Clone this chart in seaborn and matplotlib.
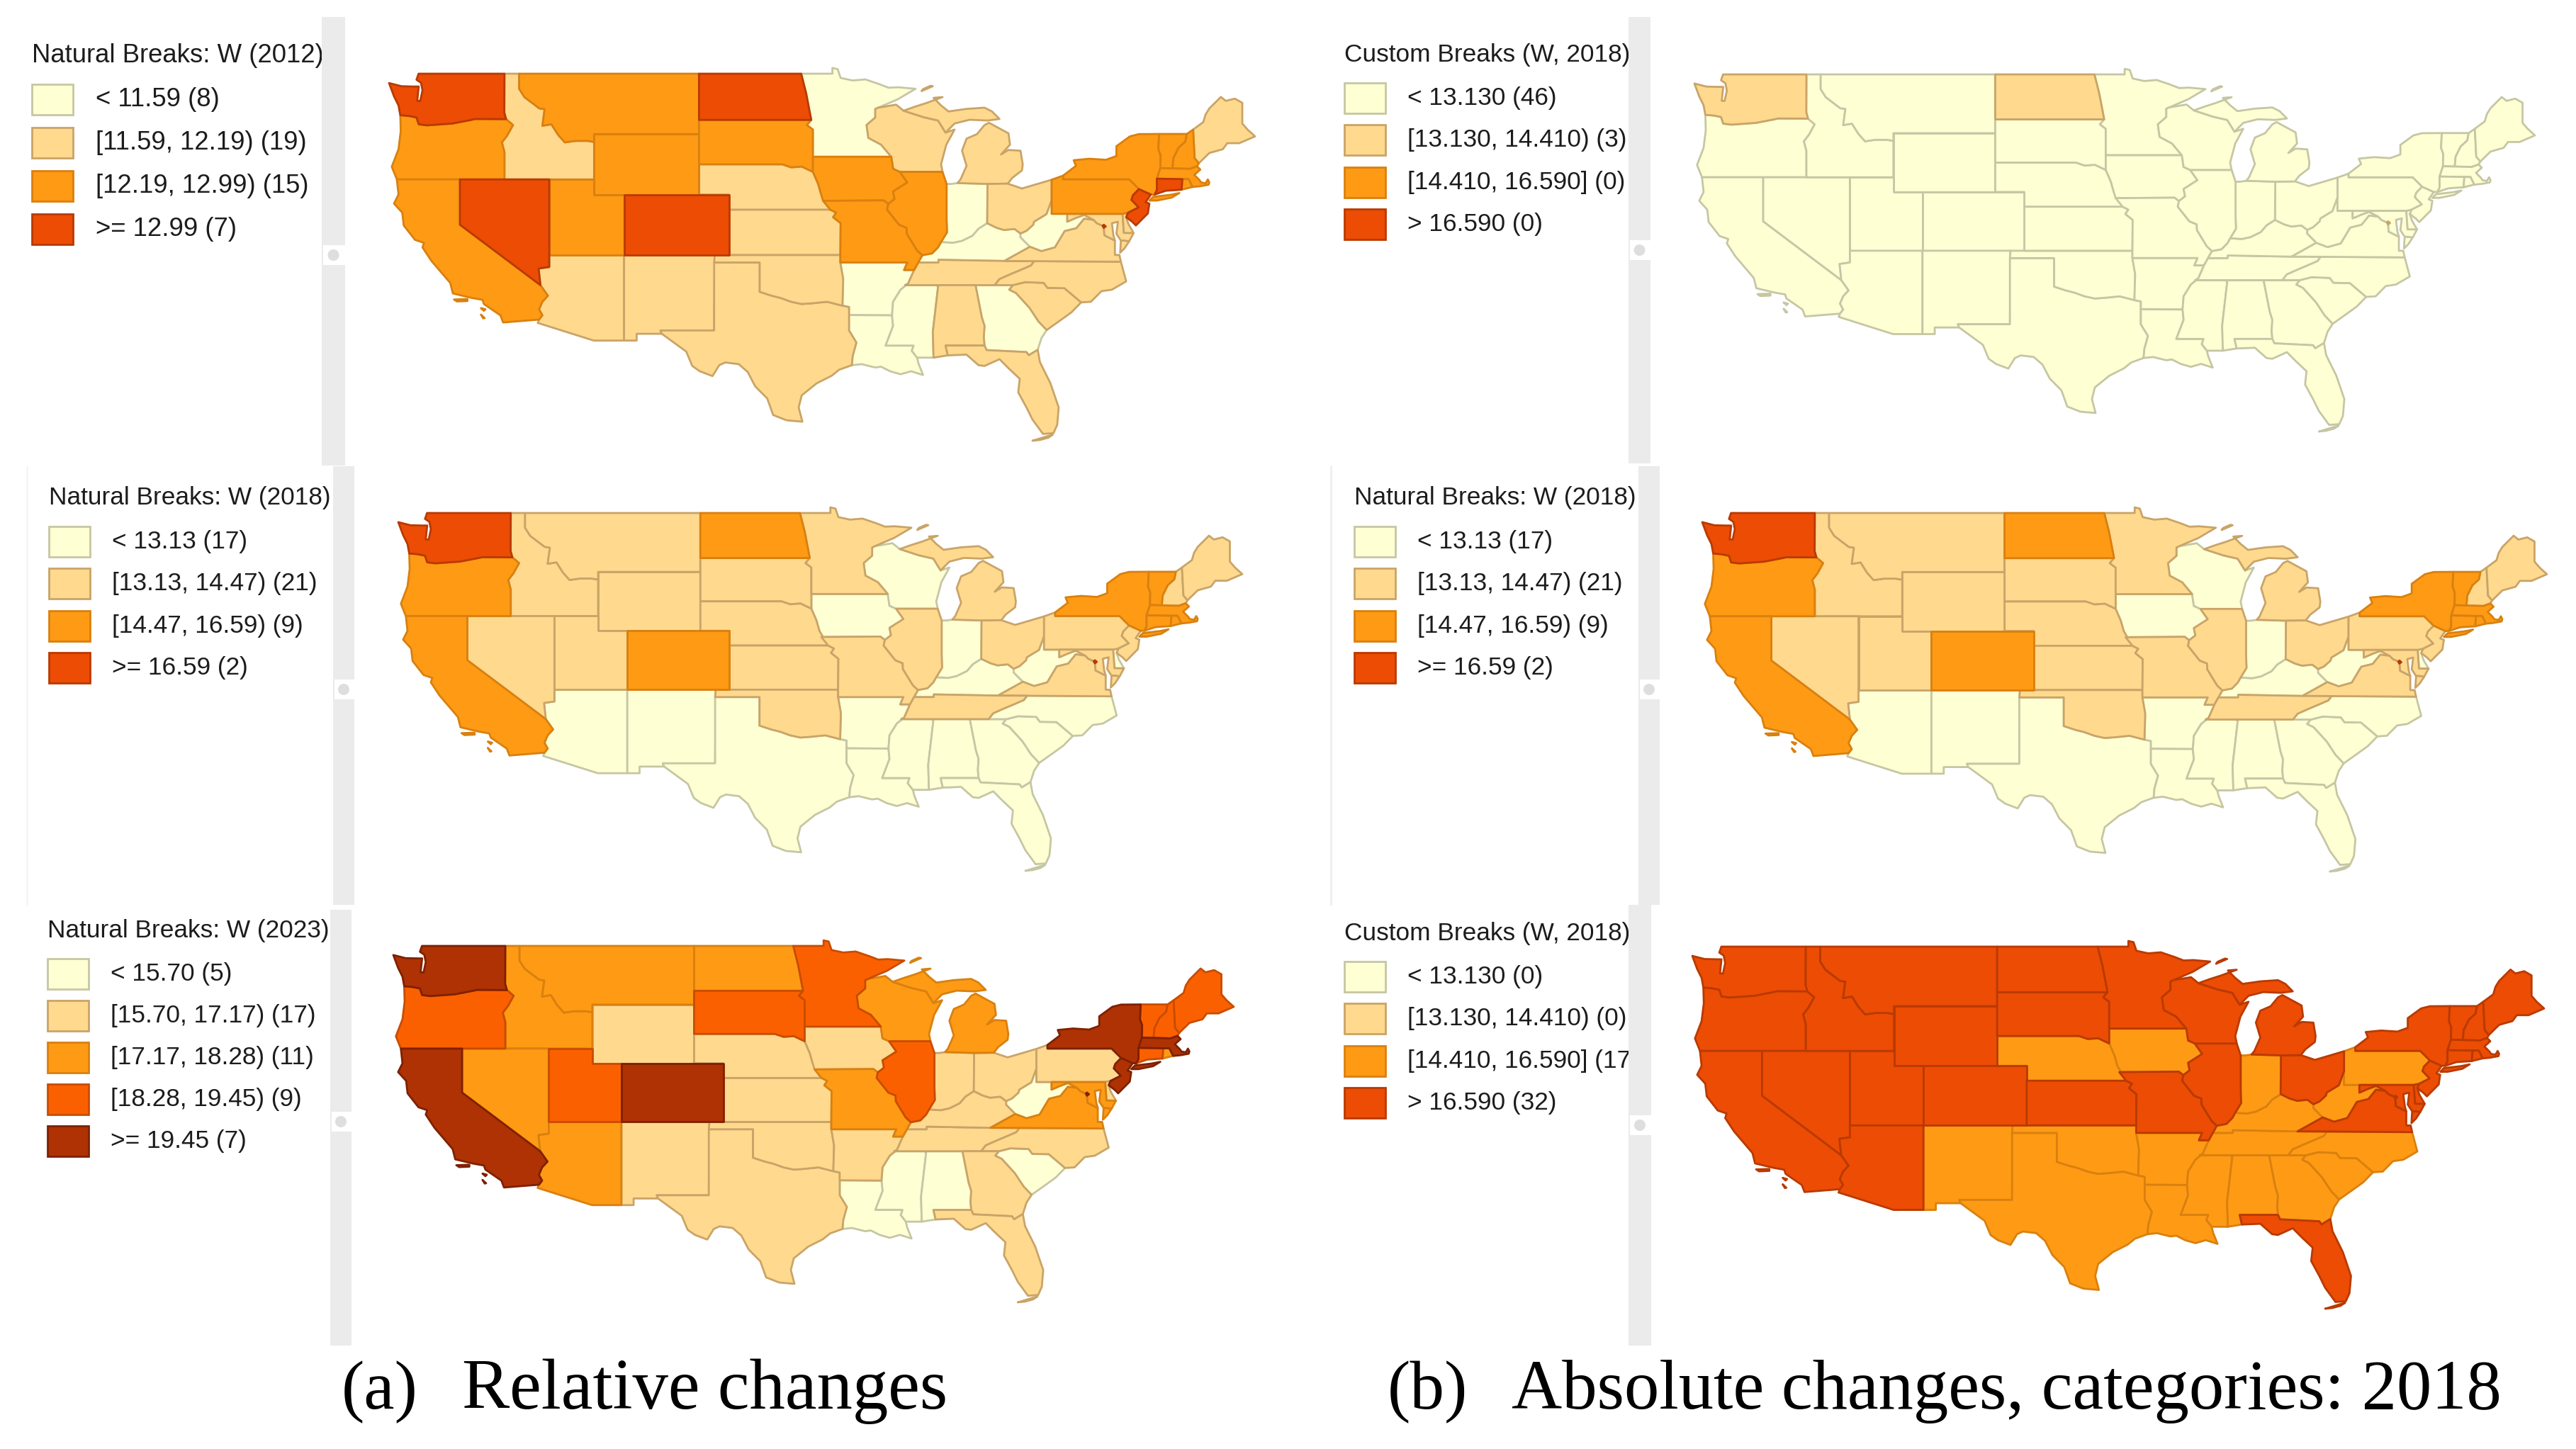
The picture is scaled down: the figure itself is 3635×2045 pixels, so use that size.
"""Six small US choropleth maps, wage classes by state, two columns"""
import matplotlib
matplotlib.use("Agg")
import matplotlib.pyplot as plt
from matplotlib.patches import Rectangle, Circle
import seaborn as sns

# state outlines, lon / lat
WA = [(-124.73,48.38),(-123.9,48.17),(-123.1,48.15),(-122.75,48.15),(-122.85,47.2),(-122.65,47.2),(-122.5,47.9),(-122.6,48.4),(-122.9,48.6),(-122.76,49.0),(-117.03,49.0),(-117.04,46.42),(-116.92,45.99),(-118.98,46.0),(-119.3,45.93),(-120.5,45.7),(-121.2,45.65),(-122.2,45.58),(-122.75,45.65),(-122.9,46.1),(-123.4,46.2),(-123.98,46.25),(-124.1,46.9),(-124.4,47.5)]
OR = [(-123.98,46.25),(-123.4,46.2),(-122.9,46.1),(-122.75,45.65),(-122.2,45.58),(-121.2,45.65),(-120.5,45.7),(-119.3,45.93),(-118.98,46.0),(-116.92,45.99),(-116.46,45.6),(-116.85,44.9),(-117.2,44.45),(-117.03,43.8),(-117.03,42.0),(-124.21,42.0),(-124.55,42.84),(-124.1,44.0),(-123.95,45.2)]
CA = [(-124.21,42.0),(-120.0,42.0),(-120.0,39.0),(-114.63,35.0),(-114.13,34.3),(-114.5,33.9),(-114.72,33.4),(-114.5,33.0),(-114.72,32.72),(-117.12,32.53),(-117.3,33.0),(-118.4,33.75),(-118.5,34.03),(-119.2,34.15),(-120.47,34.45),(-120.65,35.15),(-121.9,36.6),(-122.5,37.5),(-122.4,37.8),(-123.0,38.0),(-123.75,38.95),(-123.85,39.8),(-124.4,40.4),(-124.1,41.0)]
CA_ISLE1 = [(-120.4,34.05),(-119.5,34.08),(-119.5,33.95),(-120.2,33.92)]
CA_ISLE2 = [(-118.6,33.48),(-118.3,33.4),(-118.4,33.3)]
CA_ISLE3 = [(-118.6,33.05),(-118.35,32.82),(-118.45,32.8)]
NV = [(-120.0,42.0),(-114.04,42.0),(-114.04,36.2),(-114.75,36.1),(-114.63,35.0),(-120.0,39.0)]
ID = [(-117.03,49.0),(-116.05,49.0),(-116.05,48.0),(-115.7,47.45),(-114.7,46.7),(-114.35,46.65),(-114.5,45.55),(-113.9,45.65),(-113.45,44.95),(-113.0,44.45),(-112.3,44.55),(-111.5,44.55),(-111.05,44.48),(-111.05,42.0),(-117.03,42.0),(-117.03,43.8),(-117.2,44.45),(-116.85,44.9),(-116.46,45.6),(-116.92,45.99),(-117.04,46.42)]
MT = [(-116.05,49.0),(-104.05,49.0),(-104.05,45.0),(-111.05,45.0),(-111.05,44.48),(-111.5,44.55),(-112.3,44.55),(-113.0,44.45),(-113.45,44.95),(-113.9,45.65),(-114.5,45.55),(-114.35,46.65),(-114.7,46.7),(-115.7,47.45),(-116.05,48.0)]
WY = [(-111.05,45.0),(-104.05,45.0),(-104.05,41.0),(-111.05,41.0)]
UT = [(-114.04,42.0),(-111.05,42.0),(-111.05,41.0),(-109.05,41.0),(-109.05,37.0),(-114.04,37.0)]
CO = [(-109.05,41.0),(-102.05,41.0),(-102.05,37.0),(-109.05,37.0)]
AZ = [(-114.04,37.0),(-109.05,37.0),(-109.05,31.33),(-111.07,31.33),(-114.81,32.5),(-114.72,32.72),(-114.5,33.0),(-114.72,33.4),(-114.5,33.9),(-114.13,34.3),(-114.63,35.0),(-114.75,36.1),(-114.04,36.2)]
NM = [(-109.05,37.0),(-103.0,37.0),(-103.04,32.0),(-106.62,32.0),(-106.53,31.78),(-108.21,31.78),(-108.21,31.33),(-109.05,31.33)]
TX = [(-103.04,36.5),(-100.0,36.5),(-100.0,34.56),(-99.2,34.3),(-98.6,34.15),(-97.9,33.9),(-97.2,33.75),(-96.5,33.8),(-95.5,33.9),(-94.48,33.64),(-94.04,33.55),(-94.04,33.02),(-94.04,32.0),(-93.55,31.2),(-93.8,30.3),(-93.85,29.7),(-94.7,29.4),(-95.2,29.0),(-96.2,28.5),(-97.2,27.7),(-97.4,26.9),(-97.15,25.96),(-98.2,26.05),(-99.1,26.4),(-99.5,27.5),(-100.3,28.3),(-100.8,29.25),(-101.4,29.77),(-102.3,29.88),(-102.7,29.7),(-103.15,28.98),(-104.0,29.3),(-104.5,29.65),(-104.9,30.6),(-106.53,31.78),(-106.62,32.0),(-103.04,32.0)]
OK = [(-103.0,37.0),(-94.62,37.0),(-94.62,36.5),(-94.43,35.4),(-94.48,33.64),(-95.5,33.9),(-96.5,33.8),(-97.2,33.75),(-97.9,33.9),(-98.6,34.15),(-99.2,34.3),(-100.0,34.56),(-100.0,36.5),(-103.04,36.5)]
KS = [(-102.05,40.0),(-95.3,40.0),(-94.9,39.8),(-95.1,39.5),(-94.6,39.1),(-94.62,37.0),(-102.05,37.0)]
NE = [(-104.05,43.0),(-98.5,43.0),(-97.9,42.8),(-97.2,42.85),(-96.45,42.5),(-96.1,41.7),(-95.9,41.0),(-95.3,40.0),(-102.05,40.0),(-102.05,41.0),(-104.05,41.0)]
SD = [(-104.05,45.94),(-96.56,45.94),(-96.85,45.6),(-96.45,45.3),(-96.45,43.5),(-96.45,42.5),(-97.2,42.85),(-97.9,42.8),(-98.5,43.0),(-104.05,43.0)]
ND = [(-104.05,49.0),(-97.23,49.0),(-96.9,47.7),(-96.56,45.94),(-104.05,45.94)]
MN = [(-97.23,49.0),(-95.15,49.0),(-95.15,49.38),(-94.8,49.3),(-94.6,48.72),(-93.8,48.55),(-92.95,48.62),(-92.0,48.3),(-91.4,48.07),(-90.75,48.1),(-89.6,48.0),(-90.8,47.3),(-92.1,46.75),(-92.29,46.66),(-92.29,46.1),(-92.87,45.6),(-92.75,44.75),(-91.9,44.3),(-91.22,43.5),(-96.45,43.5),(-96.45,45.3),(-96.85,45.6),(-96.56,45.94),(-96.9,47.7)]
IA = [(-96.45,43.5),(-91.22,43.5),(-91.1,42.7),(-90.65,42.5),(-90.15,41.8),(-91.1,41.2),(-91.0,40.7),(-91.42,40.38),(-91.73,40.61),(-95.77,40.58),(-95.9,41.0),(-96.1,41.7),(-96.45,42.5)]
MO = [(-95.77,40.58),(-91.73,40.61),(-91.42,40.38),(-91.5,40.0),(-90.7,39.0),(-90.2,38.8),(-90.18,38.4),(-89.5,37.3),(-89.15,36.98),(-89.42,36.5),(-89.7,36.0),(-90.37,36.0),(-90.15,36.5),(-94.62,36.5),(-94.62,37.0),(-94.6,39.1),(-95.1,39.5),(-94.9,39.8),(-95.3,40.0)]
AR = [(-94.62,36.5),(-90.15,36.5),(-90.37,36.0),(-89.7,36.0),(-90.1,35.1),(-90.6,34.7),(-91.1,33.9),(-91.17,33.0),(-94.04,33.02),(-94.04,33.55),(-94.48,33.64),(-94.43,35.4)]
LA = [(-94.04,33.02),(-91.17,33.0),(-91.1,32.3),(-91.6,31.0),(-89.73,31.0),(-89.85,30.65),(-89.5,30.2),(-89.4,29.8),(-89.1,29.05),(-89.9,29.3),(-90.6,29.1),(-91.3,29.3),(-91.9,29.6),(-92.3,29.55),(-93.2,29.77),(-93.85,29.7),(-93.8,30.3),(-93.55,31.2),(-94.04,32.0)]
MS = [(-91.17,33.0),(-91.1,33.9),(-90.6,34.7),(-90.1,35.1),(-90.3,35.0),(-88.2,35.0),(-88.1,34.9),(-88.45,31.9),(-88.4,30.2),(-89.5,30.2),(-89.85,30.65),(-89.73,31.0),(-91.6,31.0),(-91.1,32.3)]
AL = [(-88.2,35.0),(-85.6,35.0),(-85.18,32.87),(-85.0,32.3),(-85.05,31.55),(-85.0,31.0),(-87.6,31.0),(-87.45,30.35),(-88.4,30.2),(-88.45,31.9),(-88.1,34.9)]
GA = [(-85.6,35.0),(-83.1,35.0),(-83.35,34.7),(-82.9,34.48),(-82.0,33.5),(-81.4,32.6),(-80.85,32.03),(-81.2,31.5),(-81.45,30.72),(-82.05,30.36),(-82.2,30.57),(-84.86,30.7),(-85.0,31.0),(-85.05,31.55),(-85.0,32.3),(-85.18,32.87)]
FL = [(-87.6,31.0),(-85.0,31.0),(-84.86,30.7),(-82.2,30.57),(-82.05,30.36),(-81.45,30.72),(-81.3,29.9),(-80.6,28.5),(-80.05,26.9),(-80.15,25.75),(-80.4,25.2),(-81.1,25.15),(-81.8,26.1),(-82.2,26.9),(-82.75,27.9),(-82.65,28.8),(-83.4,29.5),(-84.0,30.1),(-85.0,29.65),(-85.4,29.7),(-86.2,30.4),(-87.45,30.35)]
FL_KEYS = [(-80.45,25.1),(-80.75,24.9),(-81.3,24.75),(-81.8,24.7),(-81.3,24.85),(-80.8,25.0)]
SC = [(-83.35,34.7),(-83.1,35.0),(-82.3,35.2),(-81.05,35.15),(-80.8,34.82),(-79.67,34.8),(-78.55,33.86),(-79.2,33.2),(-79.9,32.7),(-80.85,32.03),(-81.4,32.6),(-82.0,33.5),(-82.9,34.48)]
NC = [(-84.32,35.0),(-83.1,35.0),(-82.3,35.2),(-81.05,35.15),(-80.8,34.82),(-79.67,34.8),(-78.55,33.86),(-77.9,33.9),(-77.2,34.6),(-76.5,34.7),(-75.55,35.25),(-75.9,36.55),(-81.68,36.59),(-81.9,36.3),(-82.6,36.0),(-83.2,35.75),(-84.0,35.4)]
TN = [(-90.1,35.1),(-90.3,35.0),(-88.2,35.0),(-85.6,35.0),(-84.32,35.0),(-84.0,35.4),(-83.2,35.75),(-82.6,36.0),(-81.9,36.3),(-81.68,36.59),(-83.68,36.6),(-88.07,36.68),(-88.07,36.5),(-89.42,36.5),(-89.7,36.0)]
KY = [(-89.42,36.5),(-88.07,36.5),(-88.07,36.68),(-83.68,36.6),(-81.97,37.54),(-82.6,38.17),(-82.6,38.42),(-83.0,38.72),(-83.7,38.65),(-84.2,38.8),(-84.82,39.1),(-85.4,38.73),(-85.8,38.27),(-86.5,37.93),(-87.1,37.8),(-87.9,37.85),(-88.1,37.5),(-88.5,37.1),(-89.15,36.98)]
VA = [(-83.68,36.6),(-81.68,36.59),(-75.9,36.55),(-76.0,37.0),(-76.3,37.0),(-76.3,37.5),(-76.3,37.95),(-77.0,38.3),(-77.04,38.79),(-77.12,38.93),(-77.5,39.1),(-77.72,39.32),(-78.35,39.4),(-78.87,38.77),(-79.65,38.58),(-80.3,37.5),(-81.2,37.25),(-81.97,37.54)]
VA_SHORE = [(-75.95,37.15),(-75.9,37.95),(-75.65,37.95),(-75.35,37.9),(-75.65,37.45)]
WV = [(-81.97,37.54),(-81.2,37.25),(-80.3,37.5),(-79.65,38.58),(-78.87,38.77),(-78.35,39.4),(-77.72,39.32),(-78.35,39.65),(-78.9,39.45),(-79.48,39.2),(-79.48,39.72),(-80.52,39.72),(-80.52,40.64),(-80.87,39.7),(-81.7,39.2),(-81.75,39.0),(-82.2,38.6),(-82.6,38.42),(-82.6,38.17)]
MD = [(-79.48,39.72),(-75.79,39.72),(-75.7,38.46),(-75.05,38.45),(-75.35,37.9),(-75.65,37.95),(-75.9,37.95),(-76.2,38.4),(-76.1,39.2),(-76.5,39.1),(-76.4,38.3),(-76.3,37.95),(-77.0,38.3),(-77.04,38.79),(-77.12,38.93),(-77.5,39.1),(-77.72,39.32),(-78.35,39.65),(-78.9,39.45),(-79.48,39.2)]
DC = [(-77.12,38.93),(-77.04,39.0),(-76.91,38.89),(-77.04,38.79)]
DE = [(-75.79,39.72),(-75.42,39.8),(-75.55,39.5),(-75.4,39.05),(-75.05,38.45),(-75.7,38.46)]
PA = [(-80.52,41.98),(-79.76,42.25),(-79.76,42.0),(-75.35,42.0),(-74.7,41.36),(-75.1,40.95),(-75.2,40.65),(-74.72,40.15),(-75.42,39.8),(-75.79,39.72),(-80.52,39.72)]
NJ = [(-74.7,41.36),(-73.9,41.0),(-74.25,40.5),(-74.0,40.4),(-74.1,39.75),(-74.9,38.95),(-75.15,39.2),(-75.55,39.5),(-75.42,39.8),(-74.72,40.15),(-75.2,40.65),(-75.1,40.95)]
NY = [(-79.76,42.25),(-79.76,42.0),(-75.35,42.0),(-74.7,41.36),(-73.9,41.0),(-73.65,41.0),(-73.5,41.3),(-73.5,42.05),(-73.27,42.75),(-73.25,43.6),(-73.4,44.0),(-73.35,45.01),(-74.7,45.0),(-75.3,44.85),(-76.2,44.2),(-76.2,43.55),(-76.9,43.3),(-78.0,43.37),(-79.05,43.27),(-78.9,42.9)]
NY_ISLE = [(-74.0,40.6),(-73.75,40.85),(-72.6,40.98),(-72.0,41.1),(-72.5,40.8),(-73.5,40.6)]
VT = [(-73.35,45.01),(-71.5,45.01),(-71.6,44.5),(-72.05,44.1),(-72.4,43.4),(-72.46,42.73),(-73.27,42.75),(-73.25,43.6),(-73.4,44.0)]
NH = [(-71.5,45.01),(-71.08,45.3),(-70.98,43.4),(-70.7,43.07),(-70.82,42.87),(-71.3,42.7),(-72.46,42.73),(-72.4,43.4),(-72.05,44.1),(-71.6,44.5)]
ME = [(-71.08,45.3),(-70.4,45.8),(-70.25,46.3),(-70.0,46.7),(-69.23,47.46),(-68.9,47.2),(-68.3,47.35),(-67.8,47.07),(-67.8,45.7),(-67.45,45.3),(-66.95,44.85),(-68.0,44.4),(-68.8,44.4),(-69.1,44.0),(-70.0,43.75),(-70.7,43.07),(-70.98,43.4)]
MA = [(-73.5,42.05),(-73.27,42.75),(-72.46,42.73),(-71.3,42.7),(-70.82,42.87),(-70.6,42.65),(-71.0,42.3),(-70.65,41.95),(-70.55,41.8),(-70.25,41.75),(-70.1,42.0),(-70.0,41.8),(-70.05,41.65),(-70.6,41.55),(-71.12,41.5),(-71.38,42.02),(-71.8,42.02)]
CT = [(-73.5,42.05),(-71.8,42.02),(-71.85,41.32),(-72.9,41.25),(-73.65,41.0),(-73.5,41.3)]
RI = [(-71.8,42.02),(-71.38,42.02),(-71.12,41.5),(-71.85,41.32)]
OH = [(-84.82,39.1),(-84.2,38.8),(-83.7,38.65),(-83.0,38.72),(-82.6,38.42),(-82.2,38.6),(-81.75,39.0),(-81.7,39.2),(-80.87,39.7),(-80.52,40.64),(-80.52,41.98),(-81.3,41.75),(-82.5,41.4),(-83.45,41.72),(-84.8,41.7)]
IN = [(-84.82,39.1),(-84.8,41.7),(-86.8,41.76),(-87.2,41.7),(-87.53,41.7),(-87.53,39.35),(-87.5,38.5),(-87.9,37.85),(-87.1,37.8),(-86.5,37.93),(-85.8,38.27),(-85.4,38.73)]
IL = [(-90.65,42.5),(-87.8,42.5),(-87.53,41.7),(-87.53,39.35),(-87.5,38.5),(-87.9,37.85),(-88.1,37.5),(-88.5,37.1),(-89.15,36.98),(-89.5,37.3),(-90.18,38.4),(-90.2,38.8),(-90.7,39.0),(-91.5,40.0),(-91.42,40.38),(-91.0,40.7),(-91.1,41.2),(-90.15,41.8)]
WI = [(-92.29,46.66),(-92.1,46.75),(-90.9,46.95),(-90.4,46.55),(-89.1,46.13),(-88.1,45.9),(-87.6,45.1),(-87.0,45.3),(-87.55,44.3),(-87.9,43.0),(-87.8,42.5),(-90.65,42.5),(-91.1,42.7),(-91.22,43.5),(-91.9,44.3),(-92.75,44.75),(-92.87,45.6),(-92.29,46.1)]
MI = [(-86.8,41.76),(-84.8,41.7),(-83.45,41.72),(-83.15,42.1),(-82.5,42.6),(-82.45,43.0),(-82.6,43.9),(-83.4,43.95),(-83.9,43.65),(-83.3,44.3),(-83.4,45.05),(-84.7,45.75),(-85.0,45.6),(-85.5,45.0),(-86.2,44.7),(-86.5,43.9),(-86.2,42.9),(-86.6,42.0)]
MI_UPPER = [(-90.4,46.55),(-89.1,46.13),(-88.1,45.9),(-87.6,45.1),(-87.0,45.7),(-86.0,45.95),(-84.8,45.9),(-84.0,46.0),(-84.5,46.5),(-85.0,46.75),(-86.2,46.67),(-87.4,46.5),(-87.9,46.9),(-88.4,47.4),(-87.8,47.45),(-88.9,47.05),(-89.6,46.83)]
MI_ISLE = [(-89.2,47.85),(-88.45,48.17),(-88.6,48.2),(-89.1,47.98)]

SHAPES = {"WA": [WA], "OR": [OR], "CA": [CA, CA_ISLE1, CA_ISLE2, CA_ISLE3], "NV": [NV], "ID": [ID], "MT": [MT],
          "WY": [WY], "UT": [UT], "CO": [CO], "AZ": [AZ], "NM": [NM], "TX": [TX], "OK": [OK], "KS": [KS], "NE": [NE],
          "SD": [SD], "ND": [ND], "MN": [MN], "IA": [IA], "MO": [MO], "AR": [AR], "LA": [LA], "MS": [MS], "AL": [AL],
          "GA": [GA], "FL": [FL, FL_KEYS], "SC": [SC], "NC": [NC], "TN": [TN], "KY": [KY], "VA": [VA, VA_SHORE],
          "WV": [WV], "MD": [MD], "DE": [DE], "PA": [PA], "NJ": [NJ], "NY": [NY, NY_ISLE], "VT": [VT], "NH": [NH],
          "ME": [ME], "MA": [MA], "CT": [CT], "RI": [RI], "OH": [OH], "IN": [IN], "IL": [IL], "WI": [WI],
          "MI": [MI, MI_UPPER, MI_ISLE], "DC": [DC]}

# class membership for each map, low class first
W2012 = [["MN", "IN", "KY", "WV", "AR", "LA", "MS", "GA"],
         ["ID", "AZ", "NM", "TX", "OK", "KS", "NE", "WI", "MI", "OH", "TN", "AL", "FL", "SC", "NC", "VA", "MD", "DE", "ME"],
         ["OR", "CA", "MT", "WY", "SD", "UT", "IA", "MO", "IL", "NY", "PA", "VT", "NH", "MA", "RI"],
         ["WA", "ND", "NV", "CO", "NJ", "CT", "DC"]]
W2018 = [["AZ", "NM", "TX", "AR", "LA", "MS", "AL", "GA", "FL", "SC", "NC", "KY", "WV", "IN", "IA", "WI", "DE"],
         ["ID", "MT", "WY", "NV", "UT", "SD", "NE", "KS", "OK", "MN", "MO", "IL", "MI", "OH", "PA", "NJ", "MD", "VA", "TN", "NH", "ME"],
         ["OR", "CA", "CO", "ND", "NY", "VT", "MA", "CT", "RI"],
         ["WA", "DC"]]
W2023 = [["WV", "SC", "MS", "AL", "LA"],
         ["WY", "NM", "TX", "OK", "KS", "NE", "IA", "AR", "TN", "KY", "IN", "OH", "PA", "NC", "GA", "FL", "DE"],
         ["ID", "MT", "ND", "NV", "AZ", "WI", "MI", "MO", "VA", "MD", "RI"],
         ["OR", "UT", "SD", "MN", "IL", "VT", "NH", "ME", "CT"],
         ["WA", "CA", "CO", "NY", "NJ", "MA", "DC"]]
CUSTOM_2012_LIGHT = ["WA", "ND", "DC"]
CUSTOM_2023_ORANGE = ["NM", "TX", "OK", "AR", "LA", "MS", "AL", "GA", "SC", "NC", "TN", "KY", "WV", "IN", "IA", "NE", "PA"]

# legend text
TITLE_2012 = "Natural Breaks: W (2012)"
LABELS_2012 = ["< 11.59 (8)", "[11.59, 12.19) (19)", "[12.19, 12.99) (15)", ">= 12.99 (7)"]
TITLE_2018 = "Natural Breaks: W (2018)"
LABELS_2018 = ["< 13.13 (17)", "[13.13, 14.47) (21)", "[14.47, 16.59) (9)", ">= 16.59 (2)"]
TITLE_2023 = "Natural Breaks: W (2023)"
LABELS_2023 = ["< 15.70 (5)", "[15.70, 17.17) (17)", "[17.17, 18.28) (11)", "[18.28, 19.45) (9)", ">= 19.45 (7)"]
TITLE_CUSTOM = "Custom Breaks (W, 2018)"
LABELS_CUSTOM_TOP = ["< 13.130 (46)", "[13.130, 14.410) (3)", "[14.410, 16.590] (0)", "> 16.590 (0)"]
LABELS_CUSTOM_BOT = ["< 13.130 (0)", "[13.130, 14.410) (0)", "[14.410, 16.590] (17)", "> 16.590 (32)"]

W, H = 3635, 2045
sns.set_theme(style="white")
plt.rcParams["font.family"] = ["Liberation Sans", "DejaVu Sans"]

FILL4 = sns.color_palette(["#FFFFD4", "#FED98E", "#FE9A14", "#EC4C04"])
EDGE4 = sns.color_palette(["#C6C6A4", "#C9A468", "#D9800F", "#B83A02"])
FILL5 = sns.color_palette(["#FFFFD4", "#FED98E", "#FE9A14", "#FB6000", "#AE3203"])
EDGE5 = sns.color_palette(["#C6C6A4", "#C9A468", "#D9800F", "#C84C00", "#7F2000"])

LON0, LON1 = -124.73, -66.95
LAT0, LAT1 = 24.7, 49.0


def draw_map(box, classes, fills, edges):
    left, right, top, bottom = box
    ax = fig.add_axes([left / W, 1 - bottom / H, (right - left) / W, (bottom - top) / H], zorder=1)
    ax.set_xlim(LON0, LON1)
    ax.set_ylim(LAT0, LAT1)
    ax.patch.set_alpha(0)
    ax.axis("off")
    for cls, names in enumerate(classes):
        for name in names:
            for ring in SHAPES[name]:
                xs, ys = zip(*ring)
                ax.fill(xs, ys, facecolor=fills[cls], edgecolor=edges[cls], linewidth=2.0,
                        joinstyle="round", clip_on=False)


def draw_legend(x, title_y, swatch_y, title, labels, fills, edges, text_dx=89, pitch=59.4, size=25.4):
    page.text(x, title_y, title, fontsize=size, color="#1c1c1c", va="baseline", zorder=2)
    for i, label in enumerate(labels):
        y = swatch_y + i * pitch
        page.add_patch(Rectangle((x, y), 58, 43, facecolor=fills[i], edgecolor=edges[i], linewidth=2.0, zorder=2))
        page.text(x + text_dx, y + 31, label, fontsize=size, color="#1c1c1c", va="baseline", zorder=2)


def draw_slider(x0, x1, y0, y1, knob_y):
    page.add_patch(Rectangle((x0, y0), x1 - x0, y1 - y0, facecolor="#EBEBEB", edgecolor="none", zorder=3))
    # hide legend text running past the bar
    page.add_patch(Rectangle((x1, y0), 45, y1 - y0, facecolor="white", edgecolor="none", zorder=3))
    page.add_patch(Rectangle((x0 + 2, knob_y - 14), x1 - x0 - 2, 28, facecolor="white", edgecolor="none", zorder=4))
    page.add_patch(Circle(((x0 + x1) / 2, knob_y), 8, facecolor="#DEDEDE", edgecolor="none", zorder=5))


fig = plt.figure(figsize=(W / 100, H / 100), dpi=100, facecolor="white")
page = fig.add_axes([0, 0, 1, 1], zorder=0)
page.set_xlim(0, W)
page.set_ylim(H, 0)
page.axis("off")

custom_top = [[s for s in SHAPES if s not in CUSTOM_2012_LIGHT], CUSTOM_2012_LIGHT, [], []]
custom_bot = [[], [], CUSTOM_2023_ORANGE, [s for s in SHAPES if s not in CUSTOM_2023_ORANGE]]

draw_map((549, 1771, 104, 622), W2012, FILL4, EDGE4)
draw_map((2391, 3577, 105, 609), custom_top, FILL4, EDGE4)
draw_map((562, 1753, 724, 1229), W2018, FILL4, EDGE4)
draw_map((2402, 3594, 724, 1230), W2018, FILL4, EDGE4)
draw_map((555, 1741, 1335, 1838), W2023, FILL5, EDGE5)
draw_map((2388, 3590, 1336, 1847), custom_bot, FILL4, EDGE4)

draw_legend(45, 88, 119, TITLE_2012, LABELS_2012, FILL4, EDGE4, text_dx=90, pitch=61, size=26.3)
draw_legend(1897, 87, 117, TITLE_CUSTOM, LABELS_CUSTOM_TOP, FILL4, EDGE4)
draw_legend(69, 712, 743, TITLE_2018, LABELS_2018, FILL4, EDGE4)
draw_legend(1911, 712, 743, TITLE_2018, LABELS_2018, FILL4, EDGE4)
draw_legend(67, 1323, 1353, TITLE_2023, LABELS_2023, FILL5, EDGE5, pitch=59)
draw_legend(1897, 1327, 1357, TITLE_CUSTOM, LABELS_CUSTOM_BOT, FILL4, EDGE4)

draw_slider(454, 487, 24, 657, 360)
draw_slider(2298, 2329, 24, 654, 353)
draw_slider(470, 500, 658, 1277, 973)
draw_slider(2312, 2342, 658, 1277, 973)
draw_slider(466, 496, 1284, 1899, 1583)
draw_slider(2298, 2330, 1277, 1899, 1588)

# faint panel edge beside the middle legends
page.plot([1878, 1878], [658, 1277], color="#EFEFEF", lw=2.0)
page.plot([38, 38], [658, 1277], color="#F6F6F6", lw=2.0)

cap = {"family": ["Liberation Serif", "DejaVu Serif"], "color": "black", "va": "baseline"}
page.text(482, 1988, "(a)", fontsize=70, **cap)
page.text(652, 1988, "Relative changes", fontsize=72.5, **cap)
page.text(1958, 1988, "(b)", fontsize=70, **cap)
page.text(2133, 1988, "Absolute changes, categories: 2018", fontsize=71, **cap)

fig.savefig("out.png", dpi=100)
